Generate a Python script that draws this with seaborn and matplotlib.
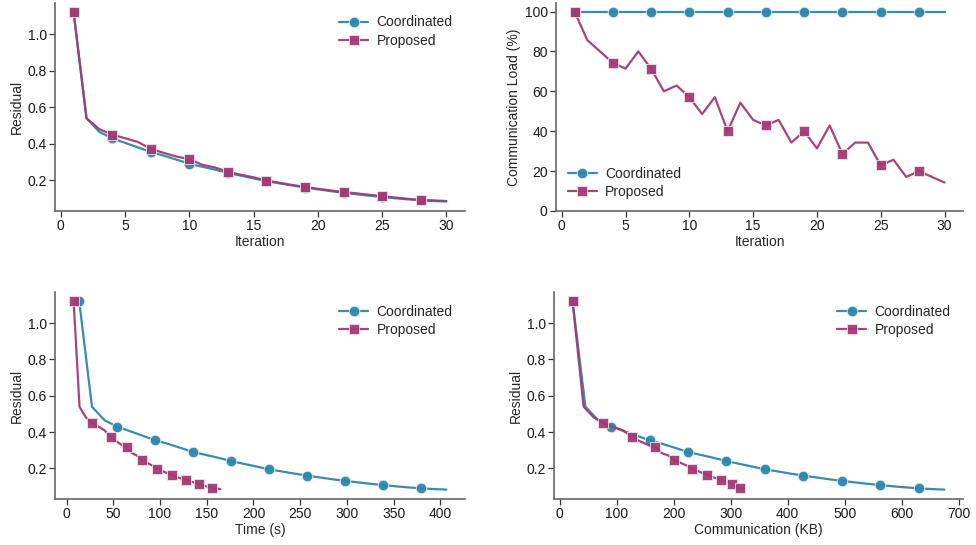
import matplotlib
matplotlib.use("Agg")
import matplotlib.pyplot as plt
import seaborn as sns
import pandas as pd

iterations = list(range(1, 31))

coord_residual = [1.12, 0.54, 0.465, 0.43, 0.405, 0.38, 0.355, 0.335, 0.313, 0.29,
                  0.274, 0.258, 0.24, 0.225, 0.21, 0.195, 0.183, 0.171, 0.16, 0.15,
                  0.14, 0.131, 0.123, 0.115, 0.108, 0.101, 0.095, 0.09, 0.086, 0.083]
prop_residual = [1.12, 0.54, 0.48, 0.45, 0.43, 0.41, 0.372, 0.35, 0.33, 0.315,
                 0.285, 0.27, 0.246, 0.23, 0.216, 0.198, 0.186, 0.174, 0.163, 0.153,
                 0.144, 0.135, 0.128, 0.12, 0.112, 0.105, 0.098, 0.092, 0.089, 0.086]

coord_load = [100] * 30
prop_load = [100, 85.7, 80, 74.3, 71.4, 80, 71.4, 60, 62.9, 57.1,
             48.6, 57.1, 40, 54.3, 45.7, 42.9, 45.7, 34.3, 40, 31.4,
             42.9, 28.6, 34.3, 34.3, 22.9, 25.7, 17.1, 20, 17.1, 14.3]

coord_time = [13.5, 27.1, 40.6, 54.2, 67.7, 81.3, 94.8, 108.4, 121.9, 135.5,
              149.0, 162.6, 176.1, 189.7, 203.2, 216.8, 230.3, 243.9, 257.4, 271.0,
              284.5, 298.1, 311.6, 325.2, 338.7, 352.3, 365.8, 379.4, 392.9, 406.5]
prop_time = [7.5, 13.8, 20.7, 27.5, 34.0, 40.5, 47.0, 52.8, 58.7, 64.5,
             69.7, 75.3, 80.5, 86.2, 91.6, 97.0, 102.3, 107.3, 112.5, 117.4,
             122.8, 128.0, 132.8, 137.5, 142.0, 146.7, 151.2, 156.0, 160.3, 164.5]

coord_comm = [22.5, 45, 67.5, 90, 112.5, 135, 157.5, 180, 202.5, 225,
              247.5, 270, 292.5, 315, 337.5, 360, 382.5, 405, 427.5, 450,
              472.5, 495, 517.5, 540, 562.5, 585, 607.5, 630, 652.5, 675]
prop_comm = [22.5, 41.8, 59.8, 76.5, 92.6, 110.6, 126.7, 140.2, 154.3, 167.2,
             178.1, 191.0, 200.0, 212.2, 222.5, 232.1, 242.4, 250.1, 259.1, 266.2,
             275.8, 282.2, 289.9, 297.6, 302.7, 308.5, 312.4, 316.9, 320.8, 324.0]

methods = ["Coordinated", "Proposed"]
colors = {"Coordinated": "#2E86AB", "Proposed": "#A23B72"}
markers = {"Coordinated": "o", "Proposed": "s"}

sns.set_theme(style="ticks")
plt.rcParams["font.family"] = ["Liberation Sans", "DejaVu Sans"]
plt.rcParams["font.size"] = 10

def make_df(x_c, y_c, x_p, y_p):
    return pd.DataFrame({
        "x": list(x_c) + list(x_p),
        "y": list(y_c) + list(y_p),
        "method": ["Coordinated"] * len(x_c) + ["Proposed"] * len(x_p),
    })

fig = plt.figure(figsize=(9.76, 5.45), dpi=100)
W, H = 976, 545
def rect(l, t, r, b):
    return [l / W, (H - b) / H, (r - l) / W, (b - t) / H]

axes = [
    fig.add_axes(rect(55, 3, 465, 211)),
    fig.add_axes(rect(556, 3, 963, 211)),
    fig.add_axes(rect(55, 292, 465, 499)),
    fig.add_axes(rect(554, 292, 963, 499)),
]

panels = [
    (iterations, coord_residual, iterations, prop_residual, "Iteration", "Residual", "upper right"),
    (iterations, coord_load, iterations, prop_load, "Iteration", "Communication Load (%)", "lower left"),
    (coord_time, coord_residual, prop_time, prop_residual, "Time (s)", "Residual", "upper right"),
    (coord_comm, coord_residual, prop_comm, prop_residual, "Communication (KB)", "Residual", "upper right"),
]

for ax, (xc, yc, xp, yp, xl, yl, loc) in zip(axes, panels):
    df = make_df(xc, yc, xp, yp)
    for m in methods:
        sub = df[df["method"] == m]
        sns.lineplot(data=sub, x="x", y="y", ax=ax, color=colors[m], label=m,
                     marker=markers[m], markevery=3, markersize=7.2 if m == "Proposed" else 7.6,
                     markeredgecolor="#f4e6ee" if m == "Proposed" else "#e6f0f5",
                     markeredgewidth=0.6, linewidth=1.6,
                     alpha=0.95, sort=False, estimator=None)
    ax.set_xlabel(xl, fontsize=10, labelpad=1)
    ax.set_ylabel(yl, fontsize=10, labelpad=2.5)
    ax.tick_params(labelsize=10, length=4, width=0.9, color="#333333", pad=2,
                   labelcolor="#1a1a1a")
    for s in ["left", "bottom"]:
        ax.spines[s].set_color("#666666")
        ax.spines[s].set_linewidth(1.2)
    sns.despine(ax=ax)
    ax.legend(loc=loc, frameon=False, fontsize=10, handlelength=2.1,
              handletextpad=0.6, labelspacing=0.3,
              borderaxespad=0.5 if loc == "upper right" else 0.45)

axes[0].set_yticks([0.2, 0.4, 0.6, 0.8, 1.0])
axes[2].set_yticks([0.2, 0.4, 0.6, 0.8, 1.0])
axes[3].set_yticks([0.2, 0.4, 0.6, 0.8, 1.0])
axes[1].set_ylim(bottom=0)
axes[1].set_yticks([0, 20, 40, 60, 80, 100])
axes[0].set_xticks([0, 5, 10, 15, 20, 25, 30])
axes[1].set_xticks([0, 5, 10, 15, 20, 25, 30])
axes[2].set_xticks(list(range(0, 401, 50)))
axes[3].set_xticks(list(range(0, 701, 100)))

fig.savefig("out.png", dpi=100)
